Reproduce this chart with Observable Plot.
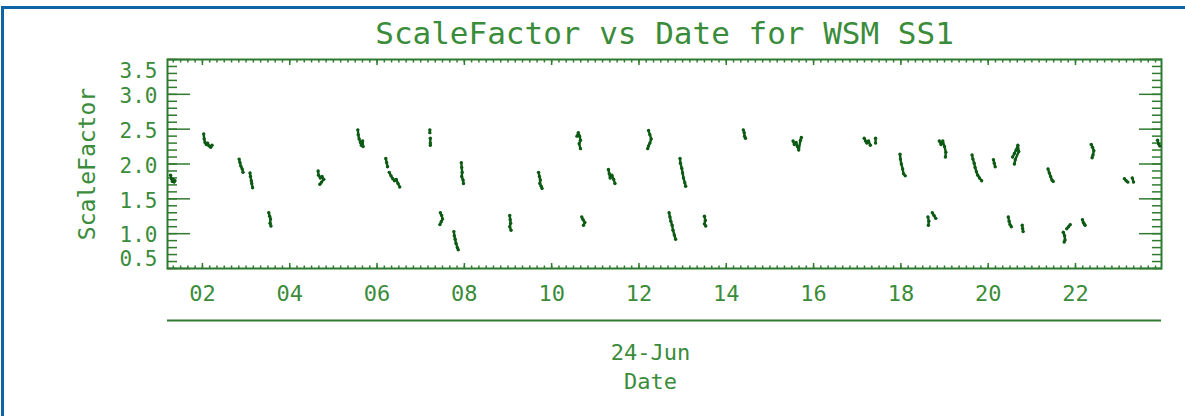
<!DOCTYPE html>
<html>
<head>
<meta charset="utf-8">
<script src="https://cdn.jsdelivr.net/npm/d3@7"></script>
<script src="https://cdn.jsdelivr.net/npm/@observablehq/plot@0.6"></script>
<style>
  html, body { margin: 0; padding: 0; background: #fff; }
  #wrap { position: relative; width: 1185px; height: 416px; overflow: hidden; }
  #border { position: absolute; left: 1px; top: 6px; right: -10px; bottom: -10px;
            border-top: 3px solid #0f64a6; border-left: 3px solid #0f64a6; pointer-events: none; }
  svg { font-family: "DejaVu Sans Mono", monospace; }
</style>
</head>
<body>
<div id="wrap"><div id="border"></div></div>
<script>
// ---- data (hours on 24-Jun, ScaleFactor), one list per measurement run ----
const runs = [
  [[1.27,1.84],[1.29,1.79],[1.31,1.75],[1.33,1.78],[1.35,1.74],[1.37,1.76]],
  [[2.03,2.43],[2.04,2.36],[2.06,2.31],[2.09,2.28],[2.12,2.30],[2.15,2.26],[2.19,2.24],[2.22,2.27]],
  [[2.84,2.07],[2.86,2.02],[2.88,1.97],[2.91,1.93],[2.93,1.88]],
  [[3.09,1.87],[3.10,1.82],[3.12,1.76],[3.13,1.72],[3.15,1.66]],
  [[3.52,1.30],[3.54,1.25],[3.56,1.21],[3.55,1.15],[3.57,1.11]],
  [[4.65,1.90],[4.66,1.84],[4.70,1.80],[4.74,1.82],[4.78,1.78],[4.73,1.74],[4.69,1.71]],
  [[5.56,2.49],[5.57,2.42],[5.59,2.36],[5.62,2.31],[5.64,2.27],[5.67,2.33],[5.68,2.25]],
  [[6.20,2.08],[6.22,2.02],[6.24,1.96]],
  [[6.28,1.88],[6.32,1.83],[6.36,1.79],[6.40,1.76],[6.44,1.78],[6.48,1.72],[6.52,1.67]],
  [[7.21,2.49],[7.21,2.45]],
  [[7.22,2.37],[7.22,2.30],[7.22,2.27]],
  [[7.45,1.30],[7.48,1.26],[7.50,1.21],[7.47,1.17],[7.44,1.13]],
  [[7.76,1.03],[7.77,0.97],[7.79,0.92],[7.81,0.86],[7.84,0.80],[7.86,0.77]],
  [[7.93,2.02],[7.94,1.95],[7.95,1.88],[7.94,1.82],[7.97,1.77],[7.98,1.72]],
  [[9.04,1.26],[9.05,1.20],[9.06,1.15],[9.04,1.10],[9.07,1.05]],
  [[9.70,1.88],[9.72,1.82],[9.74,1.77],[9.73,1.72],[9.76,1.68],[9.78,1.65]],
  [[10.58,2.40],[10.61,2.45],[10.64,2.40],[10.66,2.34],[10.63,2.29],[10.66,2.22]],
  [[10.69,1.24],[10.72,1.20],[10.76,1.16],[10.73,1.12]],
  [[11.30,1.92],[11.32,1.86],[11.34,1.80],[11.38,1.84],[11.42,1.78],[11.45,1.72]],
  [[12.22,2.48],[12.25,2.42],[12.28,2.36],[12.25,2.30],[12.22,2.26],[12.20,2.22]],
  [[12.69,1.30],[12.71,1.24],[12.73,1.18],[12.76,1.12],[12.78,1.05],[12.81,0.98],[12.84,0.92]],
  [[12.94,2.08],[12.95,2.01],[12.98,1.94],[13.00,1.87],[13.02,1.80],[13.05,1.73],[13.07,1.68]],
  [[13.50,1.25],[13.52,1.19],[13.50,1.14],[13.53,1.11]],
  [[14.39,2.49],[14.41,2.45],[14.42,2.40],[14.44,2.37]],
  [[15.53,2.33],[15.56,2.28],[15.60,2.31],[15.63,2.25],[15.66,2.20],[15.70,2.34],[15.72,2.38]],
  [[17.16,2.37],[17.19,2.33],[17.22,2.30],[17.26,2.33],[17.30,2.27]],
  [[17.42,2.37],[17.42,2.30]],
  [[17.98,2.14],[17.99,2.07],[18.01,2.00],[18.04,1.93],[18.06,1.86],[18.10,1.83]],
  [[18.62,1.24],[18.64,1.18],[18.63,1.12]],
  [[18.72,1.30],[18.76,1.26],[18.80,1.22]],
  [[18.88,2.33],[18.92,2.28],[18.96,2.33],[19.00,2.25],[19.03,2.17],[19.02,2.10]],
  [[19.63,2.13],[19.65,2.07],[19.68,2.01],[19.70,1.95],[19.73,1.89],[19.76,1.84],[19.80,1.80],[19.85,1.76]],
  [[20.12,2.06],[20.14,2.01],[20.16,1.96]],
  [[20.46,1.24],[20.48,1.18],[20.50,1.13],[20.53,1.10]],
  [[20.56,2.10],[20.60,2.15],[20.64,2.20],[20.68,2.27],[20.70,2.18],[20.62,2.06],[20.60,2.00]],
  [[20.78,1.12],[20.79,1.07],[20.80,1.03]],
  [[21.37,1.93],[21.40,1.87],[21.43,1.82],[21.46,1.77],[21.49,1.75]],
  [[21.72,1.02],[21.75,0.97],[21.76,0.91],[21.74,0.88]],
  [[21.80,1.07],[21.84,1.10],[21.88,1.13]],
  [[22.16,1.20],[22.18,1.16],[22.20,1.14],[22.22,1.12]],
  [[22.36,2.28],[22.39,2.24],[22.42,2.19],[22.40,2.13],[22.38,2.09]],
  [[23.12,1.79],[23.16,1.76],[23.20,1.74]],
  [[23.30,1.80],[23.33,1.74]],
  [[23.88,2.34],[23.90,2.29],[23.93,2.26]]
];
const hourTicks = [2, 4, 6, 8, 10, 12, 14, 16, 18, 20, 22];
const hourLabels = ["02", "04", "06", "08", "10", "12", "14", "16", "18", "20", "22"];
const scaleTicks = [0.5, 1.0, 1.5, 2.0, 2.5, 3.0, 3.5];
const scaleLabels = ["0.5", "1.0", "1.5", "2.0", "2.5", "3.0", "3.5"];
const titleText = "ScaleFactor vs Date for WSM SS1";
const yTitle = "ScaleFactor";
const dayLabel = "24-Jun";
const xTitle = "Date";

// ---- build table ----
const points = runs.flatMap((run, i) => run.map(([hour, value]) => ({run: i, hour, value})));
const hourMinor = d3.range(8, 144).map(i => i / 6);
const scaleMinor = d3.range(5, 36).map(i => i / 10);
const yLab = scaleTicks.map((v, i) => ({v, label: scaleLabels[i]}));
const yLabInner = yLab.slice(1, -1);
const yLabBottom = yLab.slice(0, 1);
const yLabTop = yLab.slice(-1);

const frameColor = "#2f7a30";
const textColor = "#3a8c3a";
const dataColor = "#0d5a14";
const blank = () => "";
const tickStyle = {label: null, tickFormat: blank, stroke: frameColor, strokeWidth: 1.5};
const labelStyle = {fontSize: 22, fill: textColor, lineAnchor: "middle"};

const chart = Plot.plot({
  width: 1185,
  height: 416,
  marginLeft: 167,
  marginRight: 24,
  marginTop: 59,
  marginBottom: 148,
  style: {background: "transparent", fontFamily: "DejaVu Sans Mono, monospace"},
  x: {type: "linear", domain: [1.2, 23.97], axis: null},
  y: {type: "linear", domain: [0.5, 3.5], axis: null},
  marks: [
    // inward ticks: y major/minor, left and right
    Plot.axisY({anchor: "left", ticks: scaleTicks, tickSize: -23, ...tickStyle}),
    Plot.axisY({anchor: "left", ticks: scaleMinor, tickSize: -10, ...tickStyle}),
    Plot.axisY({anchor: "right", ticks: scaleTicks, tickSize: -23, ...tickStyle}),
    Plot.axisY({anchor: "right", ticks: scaleMinor, tickSize: -10, ...tickStyle}),
    // inward ticks: x major/minor, bottom and top
    Plot.axisX({anchor: "bottom", ticks: hourTicks, tickSize: -5, ...tickStyle}),
    Plot.axisX({anchor: "bottom", ticks: hourMinor, tickSize: -2.5, ...tickStyle}),
    Plot.axisX({anchor: "top", ticks: hourTicks, tickSize: -5, ...tickStyle}),
    Plot.axisX({anchor: "top", ticks: hourMinor, tickSize: -2.5, ...tickStyle}),
    Plot.frame({stroke: frameColor, strokeWidth: 2}),
    // data
    Plot.line(points, {x: "hour", y: "value", z: "run", stroke: dataColor, strokeWidth: 2.4, curve: "linear"}),
    Plot.dot(points, {x: "hour", y: "value", r: 1.7, fill: dataColor, stroke: "none"}),
    // y tick labels (end labels pulled inside the frame, as in the original)
    Plot.text(yLabInner, {y: "v", text: "label", frameAnchor: "left", dx: -10, textAnchor: "end", dy: 2, ...labelStyle, fontSize: 21}),
    Plot.text(yLabTop, {y: "v", text: "label", frameAnchor: "left", dx: -10, textAnchor: "end", dy: 12, ...labelStyle, fontSize: 21}),
    Plot.text(yLabBottom, {y: "v", text: "label", frameAnchor: "left", dx: -10, textAnchor: "end", dy: -9, ...labelStyle, fontSize: 21}),
    // x tick labels
    Plot.text(hourTicks, {x: d => d, text: (d, i) => hourLabels[i], frameAnchor: "bottom", dy: 25, textAnchor: "middle", ...labelStyle}),
    // y title
    Plot.text([yTitle], {text: d => d, frameAnchor: "left", dx: -80, rotate: -90, textAnchor: "middle", ...labelStyle, fontSize: 23}),
    // title
    Plot.text([titleText], {text: d => d, frameAnchor: "top", dy: -25, textAnchor: "middle", ...labelStyle, fontSize: 31}),
    // second date axis line and labels below
    Plot.ruleY([0.5], {dy: 52, stroke: frameColor, strokeWidth: 2}),
    Plot.text([dayLabel], {text: d => d, frameAnchor: "bottom", dx: -14, dy: 84, textAnchor: "middle", ...labelStyle}),
    Plot.text([xTitle], {text: d => d, frameAnchor: "bottom", dx: -14, dy: 113, textAnchor: "middle", ...labelStyle})
  ]
});
document.getElementById("wrap").prepend(chart);
</script>
</body>
</html>
